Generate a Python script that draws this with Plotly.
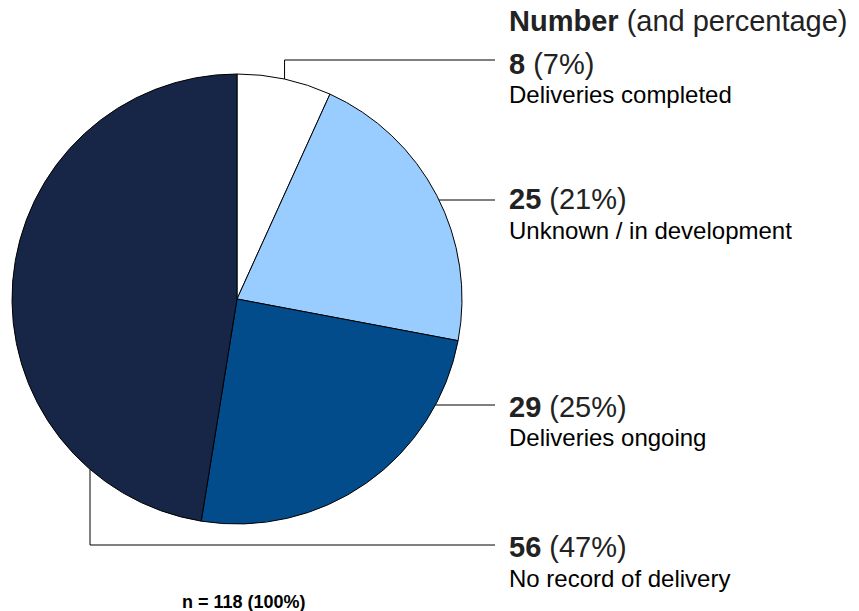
import math
import plotly.graph_objects as go

categories = ["Deliveries completed", "Unknown / in development", "Deliveries ongoing", "No record of delivery"]
counts = [8, 25, 29, 56]
percent_labels = ["7%", "21%", "25%", "47%"]
total_label = "n = 118 (100%)"
header_bold = "Number"
header_rest = " (and percentage)"

colors = ["#ffffff", "#99ccff", "#024c8c", "#172546"]
TXT = "#222222"
FONT = "Liberation Sans, Arial, sans-serif"

W, H = 859, 611
CX, CY, R = 237, 299, 225  # pie centre/radius in px (styling)

def px(x):
    return x / W

def py(y):
    return 1 - y / H

fig = go.Figure(go.Pie(
    values=counts, labels=categories, sort=False, direction="clockwise", rotation=0,
    marker=dict(colors=colors, line=dict(color="#000000", width=1)),
    textinfo="none", hoverinfo="skip", showlegend=False,
    domain=dict(x=[px(CX - R), px(CX + R)], y=[py(CY + R), py(CY - R)]),
))

total = sum(counts)
cum = 0
mids = []
for c in counts:
    mids.append((cum + c / 2) / total * 2 * math.pi)
    cum += c

label_y = [64, 199, 407, 547]  # px centre of number line
line_end_x = 495
text_x = 507

shapes = []
def seg(x0, y0, x1, y1):
    shapes.append(dict(type="line", xref="paper", yref="paper",
                       x0=px(x0), y0=py(y0), x1=px(x1), y1=py(y1),
                       line=dict(color="#000000", width=1)))

a = mids[0]
ex, ey = CX + R * math.sin(a), CY - R * math.cos(a)
seg(ex, ey, ex, 60)
seg(ex, 60, line_end_x, 60)
for i, yy in [(1, 200), (2, 405)]:
    ex = CX + math.sqrt(R ** 2 - (yy - CY) ** 2)
    seg(ex, yy, line_end_x, yy)
ex = 90
ey = CY + math.sqrt(R ** 2 - (ex - CX) ** 2)
seg(ex, ey, ex, 545)
seg(ex, 545, line_end_x, 545)

annotations = [dict(xref="paper", yref="paper", x=px(text_x), y=py(21), xanchor="left", yanchor="middle",
                    text=f"<b>{header_bold}</b>{header_rest}", showarrow=False,
                    font=dict(family=FONT, size=29, color=TXT))]
for i, cat in enumerate(categories):
    annotations.append(dict(xref="paper", yref="paper", x=px(text_x), y=py(label_y[i]),
                            xanchor="left", yanchor="middle", showarrow=False,
                            text=f"<b>{counts[i]}</b> ({percent_labels[i]})",
                            font=dict(family=FONT, size=29, color=TXT)))
    annotations.append(dict(xref="paper", yref="paper", x=px(text_x), y=py(label_y[i] + 31),
                            xanchor="left", yanchor="middle", showarrow=False,
                            text=cat, font=dict(family=FONT, size=24, color="#000000")))
annotations.append(dict(xref="paper", yref="paper", x=px(244), y=py(602), xanchor="center", yanchor="middle",
                        showarrow=False, text=f"<b>{total_label}</b>",
                        font=dict(family=FONT, size=18, color="#000000")))

fig.update_layout(width=W, height=H, margin=dict(l=0, r=0, t=0, b=0),
                  paper_bgcolor="#ffffff", plot_bgcolor="#ffffff",
                  shapes=shapes, annotations=annotations)
fig.write_html("out.html", config={"displayModeBar": False},
               post_script="document.body.style.margin='0';document.body.style.padding='0';")
